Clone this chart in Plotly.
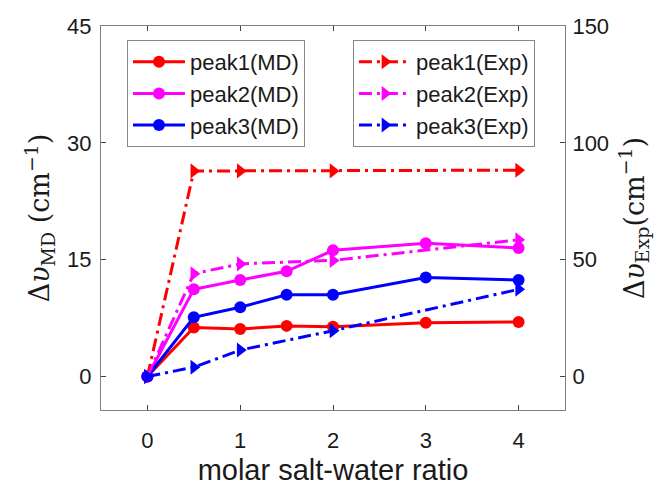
import plotly.graph_objects as go

x_md = [0, 0.5, 1, 1.5, 2, 3, 4]
peak1_md = [0, 6.3, 6.1, 6.5, 6.4, 6.9, 7.0]
peak2_md = [0, 11.2, 12.4, 13.5, 16.2, 17.1, 16.5]
peak3_md = [0, 7.6, 8.9, 10.5, 10.5, 12.7, 12.4]

x_exp = [0, 0.5, 1, 2, 4]
peak1_exp = [0, 88, 88, 88, 88.3]
peak2_exp = [0, 44, 48.2, 49.7, 58.5]
peak3_exp = [0, 4.0, 11.3, 19.6, 37.3]

x_ticks = [0, 1, 2, 3, 4]
y1_ticks = [0, 15, 30, 45]
y2_ticks = [0, 50, 100, 150]

colors = {"peak1": "#ff0000", "peak2": "#ff00ff", "peak3": "#0000ff"}
font = "Liberation Sans, Arial, sans-serif"
serif = "DejaVu Serif, serif"

fig = go.Figure()
for name, ys in [("peak1", peak1_md), ("peak2", peak2_md), ("peak3", peak3_md)]:
    fig.add_trace(go.Scatter(
        x=x_md, y=ys, mode="lines+markers", name=f"{name}(MD)",
        line=dict(color=colors[name], width=3),
        marker=dict(symbol="circle", size=12, color=colors[name]),
        legend="legend", yaxis="y"))
for name, ys in [("peak1", peak1_exp), ("peak2", peak2_exp), ("peak3", peak3_exp)]:
    fig.add_trace(go.Scatter(
        x=x_exp, y=ys, mode="lines+markers", name=f"{name}(Exp)",
        line=dict(color=colors[name], width=3, dash="13px,5px,3px,5px"),
        marker=dict(symbol="triangle-right", size=13, color=colors[name]),
        legend="legend2", yaxis="y2"))

axis_color = "#7f7f7f"
fig.update_layout(
    width=662, height=486,
    margin=dict(l=101, r=97, t=26, b=76),
    plot_bgcolor="white", paper_bgcolor="white",
    font=dict(family=font, size=22, color="#1a1a1a"),
    xaxis=dict(
        range=[-0.5, 4.5], tickvals=x_ticks, ticks="inside", ticklen=5,
        showline=True, linecolor=axis_color, linewidth=1, mirror="ticks",
        showgrid=False, zeroline=False, tickfont=dict(size=22),
        ticklabelstandoff=11, automargin=False,
        title=dict(text="molar salt-water ratio", font=dict(size=29), standoff=11),
    ),
    yaxis=dict(
        range=[-4.3, 45], tickvals=y1_ticks, ticks="inside", ticklen=5,
        showline=True, linecolor=axis_color, linewidth=1,
        showgrid=False, zeroline=False, tickfont=dict(size=22),
        ticklabelstandoff=4, automargin=False,
        title=dict(text="Δ<i>υ</i><sub>MD</sub> (cm<sup>−1</sup>)",
                   font=dict(family=serif, size=27), standoff=9),
    ),
    yaxis2=dict(
        range=[-14.33, 150], tickvals=y2_ticks, ticks="inside", ticklen=5,
        overlaying="y", side="right",
        showline=True, linecolor=axis_color, linewidth=1,
        showgrid=False, zeroline=False, tickfont=dict(size=22),
        ticklabelstandoff=2, automargin=False,
        title=dict(text="Δ<i>υ</i><sub>Exp</sub>(cm<sup>−1</sup>)",
                   font=dict(family=serif, size=27), standoff=16),
    ),
    legend=dict(
        x=0.056, y=0.9635, xanchor="left", yanchor="top",
        bordercolor="#888888", borderwidth=1, bgcolor="white",
        font=dict(size=22), itemwidth=52, tracegroupgap=0,
    ),
    legend2=dict(
        x=0.543, y=0.9635, xanchor="left", yanchor="top",
        bordercolor="#888888", borderwidth=1, bgcolor="white",
        font=dict(size=22), itemwidth=52, tracegroupgap=0,
    ),
    showlegend=True,
)

fig.write_html("out.html")
